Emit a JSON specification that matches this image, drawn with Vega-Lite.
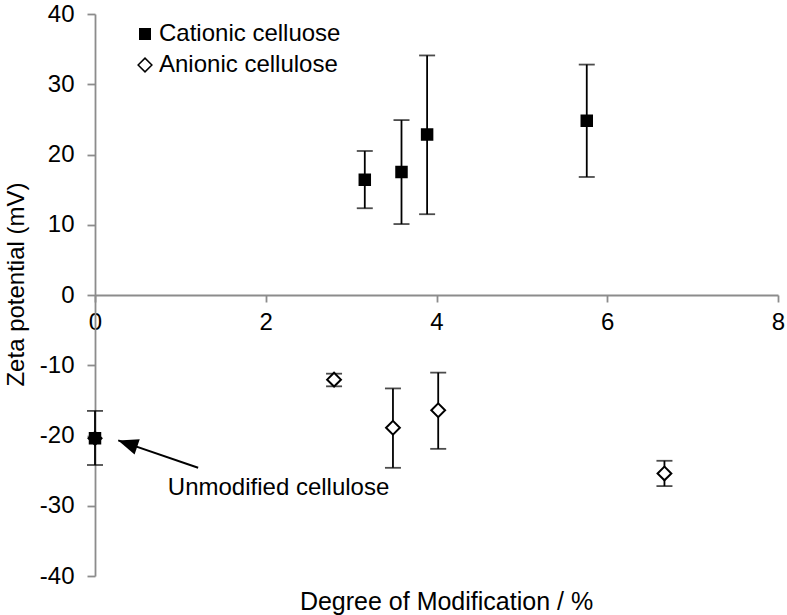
{
  "$schema": "https://vega.github.io/schema/vega-lite/v6.json",
  "width": 683,
  "height": 562,
  "autosize": {"type": "none"},
  "padding": {"left": 95, "top": 14, "right": 9, "bottom": 39},
  "background": "white",
  "config": {
    "font": "Liberation Sans",
    "view": {"stroke": null},
    "axis": {
      "grid": false,
      "domainColor": "#8c8c8c",
      "tickColor": "#8c8c8c",
      "domainWidth": 1.8,
      "tickWidth": 1.8,
      "labelFont": "Liberation Sans",
      "labelFontSize": 24,
      "labelColor": "#000000",
      "labelFlush": false,
      "labelOverlap": false,
      "titleFont": "Liberation Sans",
      "titleFontSize": 24,
      "titleFontWeight": "normal",
      "titleColor": "#000000"
    },
    "legend": {
      "labelFont": "Liberation Sans",
      "labelFontSize": 24,
      "labelColor": "#000000",
      "labelLimit": 0
    }
  },
  "datasets": {
    "pts": [
      {"series": "Cationic celluose", "dom": 3.16, "zeta": 16.4, "lo": 12.35, "hi": 20.5},
      {"series": "Cationic celluose", "dom": 3.59, "zeta": 17.5, "lo": 10.1, "hi": 24.9},
      {"series": "Cationic celluose", "dom": 3.89, "zeta": 22.85, "lo": 11.5, "hi": 34.1},
      {"series": "Cationic celluose", "dom": 5.76, "zeta": 24.8, "lo": 16.8, "hi": 32.8},
      {"series": "Anionic cellulose", "dom": 2.8, "zeta": -12.05, "lo": -13.0, "hi": -11.2},
      {"series": "Anionic cellulose", "dom": 3.49, "zeta": -18.9, "lo": -24.6, "hi": -13.3},
      {"series": "Anionic cellulose", "dom": 4.02, "zeta": -16.4, "lo": -21.9, "hi": -11.05},
      {"series": "Anionic cellulose", "dom": 6.67, "zeta": -25.4, "lo": -27.2, "hi": -23.6},
      {"series": "Unmodified cellulose", "dom": 0, "zeta": -20.4, "lo": -24.2, "hi": -16.5}
    ],
    "arrow": [
      {"x0": 1.208, "y0": -24.59, "x1": 0.272, "y1": -20.7}
    ],
    "note": [
      {"x": 2.15, "y": -28.5, "label": "Unmodified cellulose"}
    ]
  },
  "layer": [
    {
      "data": {"name": "pts"},
      "mark": {"type": "rule", "color": "#000000", "strokeWidth": 1.8},
      "encoding": {
        "x": {
          "field": "dom", "type": "quantitative",
          "scale": {"domain": [0, 8], "nice": false, "zero": false},
          "axis": {
            "values": [0, 2, 4, 6, 8],
            "labelExpr": "'' + datum.value",
            "offset": -281,
            "tickSize": 7,
            "labelPadding": 8,
            "title": "Degree of Modification  / %",
            "titleFontSize": 25,
            "titleX": 351,
            "titleY": 314,
            "titleAlign": "center",
            "titleBaseline": "alphabetic"
          }
        },
        "y": {
          "field": "lo", "type": "quantitative",
          "scale": {"domain": [-40, 40], "nice": false},
          "axis": {
            "values": [-40, -30, -20, -10, 0, 10, 20, 30, 40],
            "labelExpr": "'' + datum.value",
            "tickSize": 8,
            "labelPadding": 13,
            "title": "Zeta potential (mV)",
            "titleX": -72,
            "titleY": 270,
            "titleAngle": -90,
            "titleAlign": "center",
            "titleBaseline": "alphabetic"
          }
        },
        "y2": {"field": "hi"}
      }
    },
    {
      "data": {"name": "pts"},
      "mark": {"type": "tick", "orient": "horizontal", "color": "#000000", "size": 16, "thickness": 1.8},
      "encoding": {
        "x": {"field": "dom", "type": "quantitative"},
        "y": {"field": "lo", "type": "quantitative"}
      }
    },
    {
      "data": {"name": "pts"},
      "mark": {"type": "tick", "orient": "horizontal", "color": "#000000", "size": 16, "thickness": 1.8},
      "encoding": {
        "x": {"field": "dom", "type": "quantitative"},
        "y": {"field": "hi", "type": "quantitative"}
      }
    },
    {
      "data": {"name": "pts"},
      "transform": [{"filter": "datum.series !== 'Unmodified cellulose'"}],
      "mark": {"type": "point", "filled": true, "stroke": "#000000", "strokeWidth": 2, "opacity": 1},
      "encoding": {
        "x": {"field": "dom", "type": "quantitative"},
        "y": {"field": "zeta", "type": "quantitative"},
        "shape": {
          "field": "series", "type": "nominal",
          "scale": {"domain": ["Cationic celluose", "Anionic cellulose"], "range": ["square", "diamond"]},
          "legend": {
            "title": null, "orient": "none", "legendX": 38, "legendY": 8, "rowPadding": 7, "labelOffset": 2, "labelLimit": 0,
            "encode": {"symbols": {"update": {"stroke": {"value": "#000000"}, "strokeWidth": {"value": 2}, "opacity": {"value": 1}}}}
          }
        },
        "fill": {
          "field": "series", "type": "nominal",
          "scale": {"domain": ["Cationic celluose", "Anionic cellulose"], "range": ["#000000", "#ffffff"]},
          "legend": {
            "title": null, "orient": "none", "legendX": 38, "legendY": 8, "rowPadding": 7, "labelOffset": 2, "labelLimit": 0,
            "encode": {"symbols": {"update": {"stroke": {"value": "#000000"}, "strokeWidth": {"value": 2}, "opacity": {"value": 1}}}}
          }
        },
        "size": {
          "field": "series", "type": "nominal",
          "scale": {"domain": ["Cationic celluose", "Anionic cellulose"], "range": [110, 190]},
          "legend": {
            "title": null, "orient": "none", "legendX": 38, "legendY": 8, "rowPadding": 7, "labelOffset": 2, "labelLimit": 0,
            "encode": {"symbols": {"update": {"stroke": {"value": "#000000"}, "strokeWidth": {"value": 2}, "opacity": {"value": 1}}}}
          }
        }
      }
    },
    {
      "data": {"name": "pts"},
      "transform": [{"filter": "datum.series === 'Unmodified cellulose'"}],
      "mark": {"type": "point", "shape": "square", "filled": true, "color": "#000000", "stroke": "#000000", "strokeWidth": 2, "size": 110, "opacity": 1},
      "encoding": {
        "x": {"field": "dom", "type": "quantitative"},
        "y": {"field": "zeta", "type": "quantitative"}
      }
    },
    {
      "data": {"name": "pts"},
      "transform": [{"filter": "datum.series === 'Unmodified cellulose'"}],
      "mark": {"type": "point", "shape": "diamond", "filled": true, "color": "#000000", "stroke": "#000000", "strokeWidth": 2, "size": 170, "opacity": 1},
      "encoding": {
        "x": {"field": "dom", "type": "quantitative"},
        "y": {"field": "zeta", "type": "quantitative"}
      }
    },
    {
      "data": {"name": "arrow"},
      "mark": {"type": "rule", "color": "#000000", "strokeWidth": 2},
      "encoding": {
        "x": {"field": "x0", "type": "quantitative"},
        "y": {"field": "y0", "type": "quantitative"},
        "x2": {"field": "x1"},
        "y2": {"field": "y1"}
      }
    },
    {
      "data": {"name": "arrow"},
      "mark": {"type": "point", "shape": "M0,0L0.8,2L-0.8,2Z", "filled": true, "color": "#000000", "size": 400, "angle": 288.8, "opacity": 1},
      "encoding": {
        "x": {"field": "x1", "type": "quantitative"},
        "y": {"field": "y1", "type": "quantitative"}
      }
    },
    {
      "data": {"name": "note"},
      "mark": {"type": "text", "font": "Liberation Sans", "fontSize": 24, "color": "#000000", "align": "center", "baseline": "alphabetic"},
      "encoding": {
        "x": {"field": "x", "type": "quantitative"},
        "y": {"field": "y", "type": "quantitative"},
        "text": {"field": "label"}
      }
    }
  ]
}
